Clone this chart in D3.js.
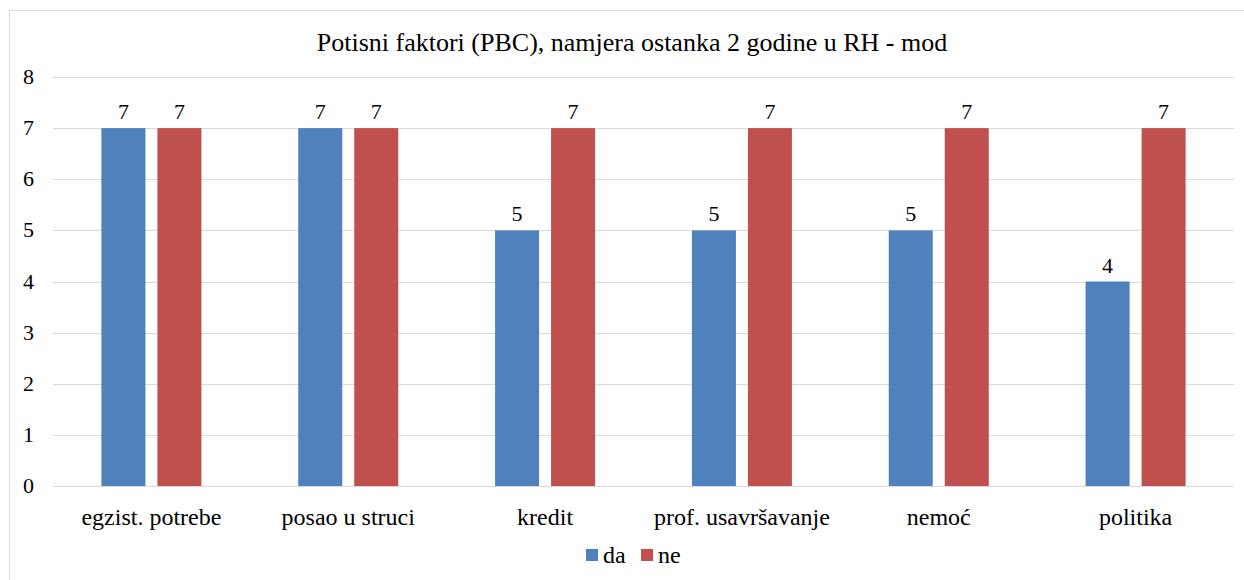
<!DOCTYPE html>
<html><head><meta charset="utf-8">
<script src="https://cdn.jsdelivr.net/npm/d3@7"></script>
</head>
<body style="margin:0">
<svg id="c" width="1244" height="580"></svg>
<script>
const title = "Potisni faktori (PBC), namjera ostanka 2 godine u RH - mod";
const categories = ["egzist. potrebe","posao u struci","kredit","prof. usavršavanje","nemoć","politika"];
const seriesNames = ["da","ne"];
const daValues = [7,7,5,5,5,4];
const neValues = [7,7,7,7,7,7];
const yTicks = [0,1,2,3,4,5,6,7,8];
const colors = ["#4F81BD","#C0504D"];
const FONT = "Liberation Serif";

const svg = d3.select("#c");
const m = {l:53, r:1244-1234, t:77, b:580-486};
const W = 1244, H = 580;

svg.append("rect").attr("x",9.5).attr("y",10.5).attr("width",1400).attr("height",800)
  .attr("fill","#fff").attr("stroke","#d9d9d9").attr("stroke-width",1);

const x0 = d3.scaleBand().domain(categories).range([m.l, W-m.r]).paddingInner(0).paddingOuter(0);
const x1 = d3.scaleBand().domain(seriesNames).range([0, x0.bandwidth()]).paddingInner(0.214).paddingOuter(0.864);
const y = d3.scaleLinear().domain([0,8]).range([H-m.b, m.t]);

svg.append("g").selectAll("line").data(yTicks).join("line")
  .attr("x1",m.l).attr("x2",W-m.r)
  .attr("y1",d=>Math.round(y(d))+0.5).attr("y2",d=>Math.round(y(d))+0.5)
  .attr("stroke","#d9d9d9").attr("stroke-width",1);

svg.append("g").selectAll("text").data(yTicks).join("text")
  .attr("x",34).attr("y",d=>y(d)+7).attr("text-anchor","end")
  .attr("font-family",FONT).attr("font-size",22).text(d=>d);

const data = categories.map((c,i)=>({cat:c, vals:[daValues[i], neValues[i]]}));
const groups = svg.append("g").selectAll("g").data(data).join("g")
  .attr("transform",d=>`translate(${x0(d.cat)},0)`);
groups.selectAll("rect").data(d=>d.vals.map((v,j)=>({s:seriesNames[j], v, j})))
  .join("rect")
  .attr("x",d=>x1(d.s)).attr("width",x1.bandwidth())
  .attr("y",d=>y(d.v)).attr("height",d=>y(0)-y(d.v))
  .attr("fill",d=>colors[d.j]);
groups.selectAll("text").data(d=>d.vals.map((v,j)=>({s:seriesNames[j], v, j})))
  .join("text")
  .attr("x",d=>x1(d.s)+x1.bandwidth()/2).attr("y",d=>y(d.v)-9)
  .attr("text-anchor","middle").attr("font-family",FONT).attr("font-size",22).text(d=>d.v);

svg.append("g").selectAll("text").data(categories).join("text")
  .attr("x",d=>x0(d)+x0.bandwidth()/2).attr("y",y(0)+39).attr("text-anchor","middle")
  .attr("font-family",FONT).attr("font-size",24).text(d=>d);

svg.append("text").attr("x",632).attr("y",51).attr("text-anchor","middle")
  .attr("font-family",FONT).attr("font-size",26).text(title);

const legendX = [586, 641];
const lg = svg.append("g").selectAll("g").data(seriesNames).join("g")
  .attr("transform",(d,i)=>`translate(${legendX[i]},549)`);
lg.append("rect").attr("width",12).attr("height",12).attr("fill",(d,i)=>colors[i]);
lg.append("text").attr("x",17).attr("y",14).attr("font-family",FONT).attr("font-size",24).text(d=>d);
</script></body></html>
